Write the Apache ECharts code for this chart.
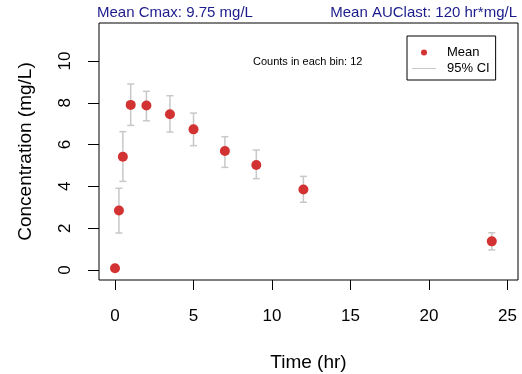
<!DOCTYPE html>
<html>
<head>
<meta charset="utf-8">
<script src="https://cdn.jsdelivr.net/npm/echarts@6/dist/echarts.min.js"></script>
<style>html,body{margin:0;padding:0;background:#fff}#chart{width:522px;height:374px}</style>
</head>
<body>
<div id="chart"></div>
<script>
const times = [0, 0.25, 0.5, 1, 2, 3.5, 5, 7, 9, 12, 24];
const means = [0.08, 2.85, 5.42, 7.9, 7.87, 7.45, 6.73, 5.69, 5.02, 3.85, 1.37];
const lower = [0.02, 1.77, 4.24, 6.92, 7.14, 6.60, 5.95, 4.91, 4.37, 3.24, 0.96];
const upper = [0.15, 3.91, 6.62, 8.90, 8.55, 8.34, 7.51, 6.38, 5.74, 4.48, 1.78];
const xTicks = [0, 5, 10, 15, 20, 25];
const yTicks = [0, 2, 4, 6, 8, 10];
const titleLeft = 'Mean Cmax: 9.75 mg/L';
const titleRight = 'Mean AUClast: 120 hr*mg/L';
const countsText = 'Counts in each bin: 12';

const FONT = '"Liberation Sans", Arial, sans-serif';
const chart = echarts.init(document.getElementById('chart'), null, {renderer: 'canvas'});

const ciData = times.map((t, i) => [t, lower[i], upper[i]]);
const meanData = times.map((t, i) => [t, means[i]]);

chart.setOption({
  animation: false,
  backgroundColor: '#fff',
  title: [
    {text: titleLeft, left: 97, top: 5, textStyle: {fontFamily: FONT, fontSize: 15, fontWeight: 'normal', color: '#1c1c8c'}, padding: 0},
    {text: titleRight, right: 5, top: 5, textStyle: {fontFamily: FONT, fontSize: 15, fontWeight: 'normal', color: '#1c1c8c'}, padding: 0},
    {text: countsText, left: 253, top: 56, textStyle: {fontFamily: FONT, fontSize: 11, fontWeight: 'normal', color: '#000'}, padding: 0}
  ],
  legend: {
    orient: 'vertical',
    left: 407, top: 36,
    padding: [10, 6, 5, 5],
    itemWidth: 24, itemHeight: 6,
    itemGap: 3,
    borderColor: '#000', borderWidth: 1,
    textStyle: {fontFamily: FONT, fontSize: 13, color: '#000', padding: [0, 0, 0, 6]},
    data: [
      {name: 'Mean', icon: 'circle'},
      {name: '95% CI', icon: 'path://M0,0L24,0L24,1L0,1Z', itemStyle: {color: '#c8c8c8'}}
    ]
  },
  grid: {left: 99, right: 4, top: 23, bottom: 94, outerBoundsMode: 'none', containLabel: false, show: true, borderColor: '#000', borderWidth: 1, backgroundColor: 'transparent'},
  xAxis: {
    type: 'value', min: -1.02, max: 25.67,
    name: 'Time (hr)', nameLocation: 'middle', nameGap: 73,
    nameTextStyle: {fontFamily: FONT, fontSize: 19, color: '#000'},
    axisLine: {show: false, onZero: false},
    splitLine: {show: false},
    axisTick: {show: true, customValues: xTicks, length: 10, inside: false, lineStyle: {color: '#000', width: 1}},
    axisLabel: {customValues: xTicks, margin: 28, fontFamily: FONT, fontSize: 17, color: '#000'}
  },
  yAxis: {
    type: 'value', min: -0.48, max: 11.82,
    name: 'Concentration (mg/L)', nameLocation: 'middle', nameGap: 64,
    nameTextStyle: {fontFamily: FONT, fontSize: 19, color: '#000'},
    axisLine: {show: false, onZero: false},
    splitLine: {show: false},
    axisTick: {show: true, customValues: yTicks, length: 11, inside: false, lineStyle: {color: '#000', width: 1}},
    axisLabel: {customValues: yTicks, margin: 25, rotate: 90, fontFamily: FONT, fontSize: 17, color: '#000'}
  },
  series: [
    {
      name: '95% CI', type: 'custom', data: ciData, z: 2,
      itemStyle: {color: '#c8c8c8'},
      renderItem: function (params, api) {
        const x = api.value(0);
        const lo = api.coord([x, api.value(1)]);
        const hi = api.coord([x, api.value(2)]);
        const hw = 3.5;
        const st = {stroke: '#c8c8c8', lineWidth: 1.5};
        return {type: 'group', children: [
          {type: 'line', shape: {x1: lo[0], y1: lo[1], x2: hi[0], y2: hi[1]}, style: st},
          {type: 'line', shape: {x1: lo[0] - hw, y1: lo[1], x2: lo[0] + hw, y2: lo[1]}, style: st},
          {type: 'line', shape: {x1: hi[0] - hw, y1: hi[1], x2: hi[0] + hw, y2: hi[1]}, style: st}
        ]};
      }
    },
    {
      name: 'Mean', type: 'scatter', data: meanData, z: 3,
      symbol: 'circle', symbolSize: 10,
      itemStyle: {color: '#d33232', opacity: 1}
    }
  ]
});
</script>
</body>
</html>
